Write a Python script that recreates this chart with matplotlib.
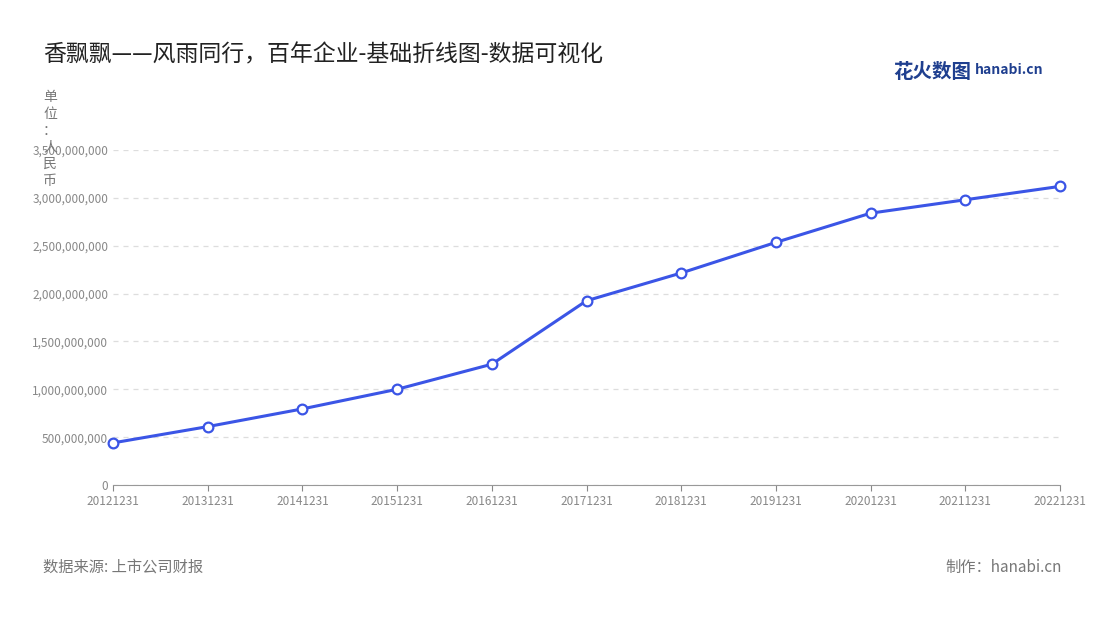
import matplotlib
matplotlib.use("Agg")
import matplotlib.pyplot as plt
from matplotlib.ticker import FuncFormatter, MultipleLocator

plt.rcParams['font.family'] = ['Noto Sans CJK SC', 'DejaVu Sans']

years = ["20121231","20131231","20141231","20151231","20161231","20171231",
         "20181231","20191231","20201231","20211231","20221231"]
values = [440e6, 610e6, 795e6, 1000e6, 1262e6, 1925e6, 2215e6, 2535e6, 2840e6, 2980e6, 3120e6]

fig = plt.figure(figsize=(11, 6.2), dpi=100)
ax = fig.add_axes([113/1100, 1-485/620, (1060-113)/1100, (485-150)/620])
x = list(range(len(years)))
ax.plot(x, values, color='#3b55e6', lw=2.2, marker='o', ms=7, clip_on=False,
        markerfacecolor='white', markeredgecolor='#3b55e6', markeredgewidth=1.6, zorder=3)
ax.set_xlim(0, len(years)-1)
ax.set_ylim(0, 3.5e9)
ax.yaxis.set_major_locator(MultipleLocator(5e8))
ax.yaxis.set_major_formatter(FuncFormatter(lambda v, p: f"{int(v):,}"))
ax.set_xticks(x)
ax.set_xticklabels(years)
ax.tick_params(axis='both', labelsize=8.5, colors='#888888', length=4)
ax.tick_params(axis='y', length=0)
ax.grid(axis='y', ls=(0, (4, 4)), color='#dddddd', lw=0.9)
for s in ['top', 'right', 'left']:
    ax.spines[s].set_visible(False)
ax.spines['bottom'].set_color('#999999')

fig.text(43/1100, 1-55/620, "香飘飘——风雨同行，百年企业-基础折线图-数据可视化",
         fontsize=16.5, color='#222222', va='center')
fig.text(50/1100, 1-90/620, "单\n位\n：\n人\n民\n币", fontsize=10, color='#777777',
         va='top', ha='center', linespacing=1.25)
fig.text(43/1100, 1-567/620, "数据来源: 上市公司财报", fontsize=11, color='#777777', va='center')
fig.text(1062/1100, 1-567/620, "制作：hanabi.cn", fontsize=11, color='#777777', va='center', ha='right')
fig.text(893/1100, 1-72/620, "花火数图", fontsize=14, color='#1f3f8f', va='center', fontweight='bold')
fig.text(975/1100, 1-70/620, "hanabi.cn", fontsize=10, color='#1f3f8f', va='center', fontweight='bold')
fig.savefig("out.png", dpi=100)
